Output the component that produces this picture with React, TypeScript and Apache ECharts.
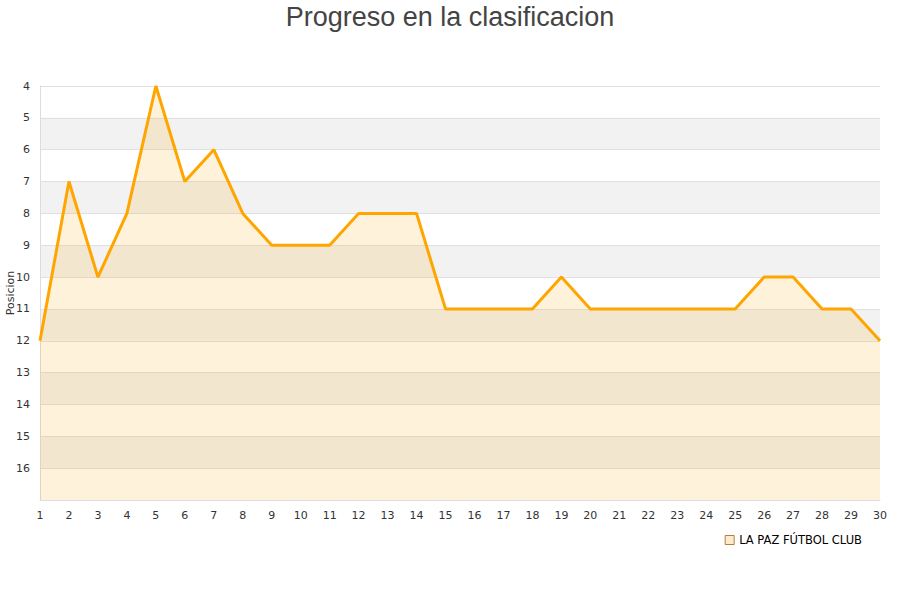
import React, { useEffect, useRef } from "react";
import * as echarts from "echarts";

const jornadas = [1,2,3,4,5,6,7,8,9,10,11,12,13,14,15,16,17,18,19,20,21,22,23,24,25,26,27,28,29,30];
const posiciones = [12,7,10,8,4,7,6,8,9,9,9,8,8,8,11,11,11,11,10,11,11,11,11,11,11,10,10,11,11,12];
const seriesName = "LA PAZ FÚTBOL CLUB";
const titleText = "Progreso en la clasificacion";
const yAxisName = "Posicion";

export default function App() {
  const ref = useRef<HTMLDivElement>(null);
  useEffect(() => {
    document.body.style.margin = "0";
    const chart = echarts.init(ref.current!, null, { renderer: "svg" });
    chart.setOption({
      animation: false,
      backgroundColor: "#ffffff",
      title: {
        text: titleText,
        left: "center",
        top: -2,
        textStyle: { fontFamily: "Liberation Sans", fontSize: 27, fontWeight: "normal", color: "#444" },
      },
      grid: { left: 40, right: 20, top: 86, bottom: 100, outerBoundsMode: "none", containLabel: false },
      legend: {
        right: 33,
        top: 529,
        itemWidth: 9,
        itemHeight: 9,
        itemGap: 10,
        icon: "rect",
        textStyle: { fontFamily: "DejaVu Sans", fontSize: 11.5, color: "#000" },
        data: [{ name: seriesName, itemStyle: { color: "#FFEBCC", borderColor: "#b08040", borderWidth: 1 } }],
      },
      xAxis: {
        type: "value",
        min: 1,
        max: 30,
        interval: 1,
        axisLine: { show: true, lineStyle: { color: "#ddd" } },
        axisTick: { show: false },
        splitLine: { show: false },
        axisLabel: { color: "#333", fontFamily: "DejaVu Sans", fontSize: 11, margin: 10 },
      },
      yAxis: {
        type: "value",
        inverse: true,
        min: 4,
        max: 17,
        interval: 1,
        name: yAxisName,
        nameLocation: "middle",
        nameGap: 24,
        nameMoveOverlap: false,
        nameTextStyle: { fontFamily: "DejaVu Sans", fontSize: 11, color: "#333" },
        axisLine: { show: true, lineStyle: { color: "#ddd" } },
        axisTick: { show: false },
        axisLabel: {
          color: "#333",
          fontFamily: "DejaVu Sans",
          fontSize: 11,
          margin: 10,
          formatter: (v: number) => (v >= 17 ? "" : String(v)),
        },
        splitLine: { show: true, lineStyle: { color: "#e0e0e0" } },
        splitArea: { show: true, areaStyle: { color: ["#ffffff", "#f2f2f2"] } },
      },
      series: [
        {
          name: seriesName,
          type: "line",
          data: jornadas.map((j, i) => [j, posiciones[i]]),
          showSymbol: false,
          symbol: "none",
          lineStyle: { color: "#FFA500", width: 3 },
          itemStyle: { color: "#FFA500" },
          areaStyle: { color: "rgba(255,165,0,0.2)", origin: "end" },
        },
      ],
    });
    return () => chart.dispose();
  }, []);
  return <div ref={ref} style={{ width: 900, height: 600 }} />;
}
